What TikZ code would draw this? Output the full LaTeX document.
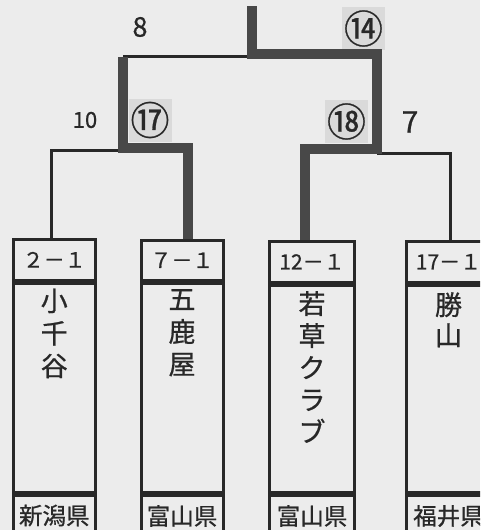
\documentclass[tikz,border=0pt]{standalone}
\usepackage{fontspec}
\setmainfont{Noto Sans CJK JP}[FakeBold=0.7]
\usetikzlibrary{calc}
\definecolor{paper}{RGB}{236,236,236}
\definecolor{shadebg}{RGB}{218,218,218}
\definecolor{thickc}{RGB}{72,72,72}
\definecolor{thinc}{RGB}{40,40,40}
\begin{document}
\begin{tikzpicture}[x=1pt,y=-1pt,
  thinline/.style={draw=thinc,line width=3pt,line join=miter},
  winline/.style={draw=thickc,line width=9.5pt,line join=miter},
  cell/.style={draw=thinc,line width=3pt,inner sep=0pt,anchor=north west,text=thinc},
  scorecell/.style={cell,minimum height=40.5pt,font=\fontsize{21}{24}\selectfont},
  namecell/.style={cell,minimum height=209pt},
  prefcell/.style={cell,minimum height=41pt,font=\fontsize{23.5}{26}\selectfont},
  nametext/.style={anchor=north,inner sep=0pt,align=center,text=thinc},
  roundno/.style={fill=shadebg,inner sep=0pt,minimum width=43pt,minimum height=43pt,text=thinc,font=\fontsize{39}{39}\selectfont},
  scoreno/.style={inner sep=0pt,text=thinc}]
\useasboundingbox (0,0) rectangle (480,530);
\clip (0,0) rectangle (480,530);
\fill[paper] (0,0) rectangle (480,530);

% shaded round numbers
\node[roundno] (c14) at (363.5,28.5) {\raisebox{-1pt}{⑭}};
\node[roundno] (c17) at (150,120) {\raisebox{1pt}{⑰}};
\node[roundno] (c18) at (346.5,121.5) {\raisebox{-1pt}{⑱}};

% scores
\node[scoreno,font=\fontsize{27}{27}\selectfont] (sc8) at (140,27) {8};
\node[scoreno,font=\fontsize{22}{22}\selectfont] (sc10) at (85,120) {10};
\node[scoreno,font=\fontsize{30}{30}\selectfont] (sc7) at (410,122) {7};

% team boxes
\node[scorecell,minimum width=82.5pt] (s1) at (11.5,238) {２－１};
\node[namecell,minimum width=82.5pt] (n1) at (s1.south west) {};
\node[prefcell,minimum width=82.5pt] (p1) at (n1.south west) {新潟県};

\node[scorecell,minimum width=82pt] (s2) at (139.5,238.5) {７－１};
\node[namecell,minimum width=82pt] (n2) at (s2.south west) {};
\node[prefcell,minimum width=82pt] (p2) at (n2.south west) {富山県};

\node[scorecell,minimum width=85pt,minimum height=41.5pt] (s3) at (268,239.5) {12－１};
\node[namecell,minimum width=85pt,minimum height=207pt] (n3) at (s3.south west) {};
\node[prefcell,minimum width=85pt] (p3) at (n3.south west) {富山県};

\node[scorecell,minimum width=85pt,minimum height=41.5pt] (s4) at (404.5,239.5) {17－１};
\node[namecell,minimum width=85pt,minimum height=207pt] (n4) at (s4.south west) {};
\node[prefcell,minimum width=85pt] (p4) at (n4.south west) {福井県};

% names
\node[nametext,font=\fontsize{27}{32.5}\selectfont] (t1) at ($(n1.north)+(0,7)$) {小\\千\\谷};
\node[nametext,font=\fontsize{27}{32.5}\selectfont] (t2) at ($(n2.north)+(0,7)$) {五\\鹿\\屋};
\node[nametext,font=\fontsize{27}{32}\selectfont] (t3) at ($(n3.north)+(0,7)$) {若\\草\\ク\\ラ\\ブ};
\node[nametext,font=\fontsize{27}{30.5}\selectfont] (t4) at ($(n4.north)+(0,8)$) {勝\\山};

% bracket junctions
\coordinate (top) at (252,6);
\coordinate (fin) at (252,54);
\coordinate (finR) at (377,54);
\coordinate (finL) at (123,56.5);
\coordinate (semL) at (123,148);
\coordinate (semR) at (377,149);

% losing (thin) lines
\draw[thinline] (fin |- finL) -- (finL);
\draw[thinline] (semL |- 0,150.5) -- (51.5,150.5) -- (51.5,0 |- s1.north);
\draw[thinline] (semR |- 0,153) -- (450.5,153) -- (450.5,0 |- s4.north);

% winning (thick) lines
\draw[winline] (top) -- (fin) -- (finR) -- (semR) -- (305,149) -- (305,0 |- s3.north);
\draw[winline] (finL) -- (semL) -- (188,148) -- (188,0 |- s2.north);
\end{tikzpicture}
\end{document}
